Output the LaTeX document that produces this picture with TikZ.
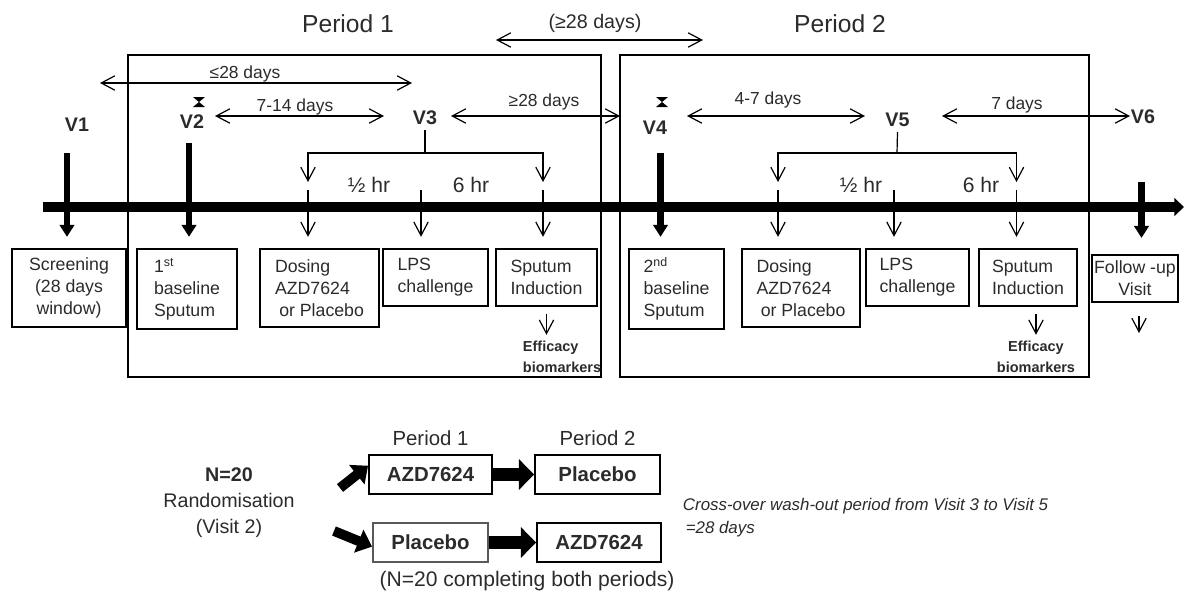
\documentclass[tikz,border=0pt]{standalone}
\usepackage{fontspec}
\setmainfont{Liberation Sans}
\usetikzlibrary{arrows.meta,positioning}
\definecolor{ink}{HTML}{2B2B2B}
\begin{document}
\begin{tikzpicture}[x=0.025cm,y=-0.025cm,>={Straight Barb[length=3.4mm,width=3.6mm]},text=ink]
\tikzset{
  stage/.style 2 args={draw,line width=1.3pt,minimum width=#1,minimum height=#2,inner sep=2pt,align=left,font=\fontsize{12.6}{15.6}\selectfont},
  arm/.style 2 args={draw,line width=1.3pt,minimum width=#1,minimum height=#2,inner sep=2pt,font=\fontsize{14.5}{17}\selectfont\bfseries},
  visitlbl/.style={font=\fontsize{14}{16}\selectfont\bfseries},
  daylbl/.style={font=\fontsize{12.4}{14}\selectfont},
  hrlbl/.style={font=\fontsize{15}{17}\selectfont},
  periodlbl/.style={font=\fontsize{17.5}{20}\selectfont},
  effect/.style={font=\fontsize{10.3}{15}\selectfont\bfseries},
  span/.style={<->,line width=0.85pt},
  split/.style={->,line width=0.85pt},
  hop/.style={->,line width=0.85pt,shorten >=8pt},
  visitbar/.style={-{Triangle[length=3mm,width=3.6mm]},line width=4.5pt,shorten >=8pt},
  timeline/.style={-{Triangle[length=2.4mm,width=4.4mm]},line width=7pt},
  fatarrow/.style={-{Triangle[length=3.8mm,width=7.5mm]},line width=9pt},
  forkarrow/.style={-{Triangle[length=3.6mm,width=6mm]},line width=7pt},
  periodframe/.style={line width=1.3pt}
}
\useasboundingbox (0,0) rectangle (1184,594);

\node[periodlbl] (per1) at (348,24) {Period 1};
\node[periodlbl] (per2) at (840,24) {Period 2};
\draw[periodframe] (128,55) rectangle (601,377);
\draw[periodframe] (620,55) rectangle (1089,377);

\coordinate (washL) at (496,40);
\coordinate (washR) at (703,40);
\draw[span] (washL) -- (washR);
\node[font=\fontsize{14}{16}\selectfont] (washlbl) at (595,23) {(≥28 days)};

\coordinate (screenL) at (100,83);
\coordinate (screenR) at (412,83);
\draw[span] (screenL) -- (screenR);
\node[daylbl] (screenlbl) at (245,74) {≤28 days};

\node[visitlbl] (v1) at (77,124.5) {V1};
\node[visitlbl] (v2) at (192,122) {V2};
\node[visitlbl] (v3) at (425,118) {V3};
\node[visitlbl] (v4) at (655,127.5) {V4};
\node[visitlbl] (v5) at (897.5,120) {V5};
\node[visitlbl] (v6) at (1143,117) {V6};
\fill (193,97) -- (205,97) -- (193,107) -- (205,107) -- cycle;
\fill (656,97) -- (668,97) -- (656,107) -- (668,107) -- cycle;

\coordinate (runinL) at (215,116);
\coordinate (runinR) at (384,116);
\draw[span] (runinL) -- (runinR);
\node[daylbl] (runinlbl) at (295,107) {7-14 days};
\coordinate (crossL) at (451,116);
\coordinate (crossR) at (620,116);
\draw[span] (crossL) -- (crossR);
\node[daylbl] (crosslbl) at (544,102) {≥28 days};
\coordinate (baseL) at (687,116);
\coordinate (baseR) at (865,116);
\draw[span] (baseL) -- (baseR);
\node[daylbl] (baselbl) at (768,100) {4-7 days};
\coordinate (followL) at (942,116);
\coordinate (followR) at (1130,116);
\draw[span] (followL) -- (followR);
\node[daylbl] (followlbl) at (1017,105) {7 days};

\node[hrlbl] (half1) at (369,185) {½ hr};
\node[hrlbl] (six1) at (471,185) {6 hr};
\node[hrlbl] (half2) at (861,185) {½ hr};
\node[hrlbl] (six2) at (981,185) {6 hr};

\node[stage={2.85cm}{1.95cm},align=center] (scr) at (69,288) {Screening\\(28 days\\window)};
\node[stage={2.5cm}{2cm}] (base1) at (187,289) {1\textsuperscript{st}\\baseline\\Sputum};
\node[stage={2.975cm}{1.95cm}] (dose1) at (319.5,288) {Dosing\\AZD7624\\\hspace*{3pt}or Placebo};
\node[stage={2.625cm}{1.425cm}] (lps1) at (435.5,277.5) {LPS\\challenge};
\node[stage={2.525cm}{1.425cm}] (sput1) at (546.5,277.5) {Sputum\\Induction};
\node[stage={2.375cm}{2cm}] (base2) at (676.5,289) {2\textsuperscript{nd}\\baseline\\Sputum};
\node[stage={2.95cm}{1.95cm}] (dose2) at (801,288) {Dosing\\AZD7624\\\hspace*{3pt}or Placebo};
\node[stage={2.575cm}{1.425cm}] (lps2) at (917.5,277.5) {LPS\\challenge};
\node[stage={2.45cm}{1.425cm}] (sput2) at (1028,277.5) {Sputum\\Induction};
\node[stage={2.15cm}{1.175cm},align=center,inner sep=0pt] (fu) at (1135,278.5) {Follow -up\\Visit};

\node[effect,align=left,anchor=west] (eff1) at (518,357) {Efficacy\\biomarkers};
\node[effect,align=center] (eff2) at (1036,357) {Efficacy\\biomarkers};
\draw[hop,shorten <=5pt,shorten >=1pt] (sput1.south) -- (sput1.south |- eff1.north);
\draw[hop,shorten <=5pt,shorten >=1pt] (sput2.south -| eff2.north) -- (eff2.north);
\coordinate (fuend) at (1139,333);
\draw[hop,shorten <=9pt,shorten >=0pt] (fu.south -| fuend) -- (fuend);

\coordinate (v3knot) at (425,153);
\coordinate (d1tip) at (308,182);
\coordinate (s1tip) at (543,182);
\draw[line width=0.85pt] (v3.south) -- (v3knot);
\draw[split] (v3knot) -| (d1tip);
\draw[split] (v3knot) -| (s1tip);
\coordinate (v5knot) at (897,153);
\coordinate (d2tip) at (778,182);
\coordinate (s2tip) at (1016.5,182);
\draw[line width=0.85pt] (v5.south) -- (v5knot);
\draw[split] (v5knot) -| (d2tip);
\draw[split] (v5knot) -| (s2tip);

\coordinate (t1a) at (308,190);
\coordinate (t1b) at (421,190);
\coordinate (t1c) at (543,190);
\coordinate (t2a) at (778,190);
\coordinate (t2b) at (894,190);
\coordinate (t2c) at (1016.5,190);
\draw[hop] (t1a) -- (t1a |- dose1.north);
\draw[hop] (t1b) -- (t1b |- lps1.north);
\draw[hop] (t1c) -- (t1c |- sput1.north);
\draw[hop] (t2a) -- (t2a |- dose2.north);
\draw[hop] (t2b) -- (t2b |- lps2.north);
\draw[hop] (t2c) -- (t2c |- sput2.north);

\coordinate (tl0) at (43,207);
\coordinate (tl1) at (1184,207);
\draw[timeline] (tl0) -- (tl1);

\coordinate (v1bar) at (67,153);
\coordinate (v2bar) at (189,143);
\coordinate (v4bar) at (660.5,153);
\coordinate (v6bar) at (1141.5,182);
\draw[visitbar] (v1bar) -- (v1bar |- scr.north);
\draw[visitbar] (v2bar) -- (v2bar |- base1.north);
\draw[visitbar] (v4bar) -- (v4bar |- base2.north);
\draw[visitbar,shorten >=11.5pt] (v6bar) -- (v6bar |- fu.north);

\node[align=center,font=\fontsize{14}{18.5}\selectfont] (rand) at (229,503) {\textbf{N=20}\\Randomisation\\(Visit 2)};
\node[arm={3.075cm}{0.975cm}] (az1) at (430.5,474.5) {AZD7624};
\node[arm={3.125cm}{0.975cm}] (pl1) at (597.5,474.5) {Placebo};
\node[arm={2.875cm}{0.975cm},draw=gray!70!black] (pl2) at (430.5,542.5) {Placebo};
\node[arm={3.1cm}{0.975cm}] (az2) at (599,542.5) {AZD7624};
\node[font=\fontsize{14.5}{17}\selectfont,inner sep=0pt,above=5.5pt of az1] (arm1lbl) {Period 1};
\node[font=\fontsize{14.5}{17}\selectfont,inner sep=0pt,above=5.5pt of pl1] (arm2lbl) {Period 2};
\node[font=\fontsize{15}{17}\selectfont] (complete) at (527,581) {(N=20 completing both periods)};
\node[anchor=west,align=left,font=\fontsize{12}{16.3}\selectfont\itshape] (washnote) at (678,518) {Cross-over wash-out period from Visit 3 to Visit 5\\\hspace*{2pt}=28 days};

\coordinate (forkup) at (340,488);
\coordinate (forkdown) at (334,531);
\draw[forkarrow] (forkup) -- (az1.172);
\draw[forkarrow] (forkdown) -- (pl2.184);
\draw[fatarrow] (az1) -- (pl1);
\draw[fatarrow] (pl2) -- (az2);
\end{tikzpicture}
\end{document}
